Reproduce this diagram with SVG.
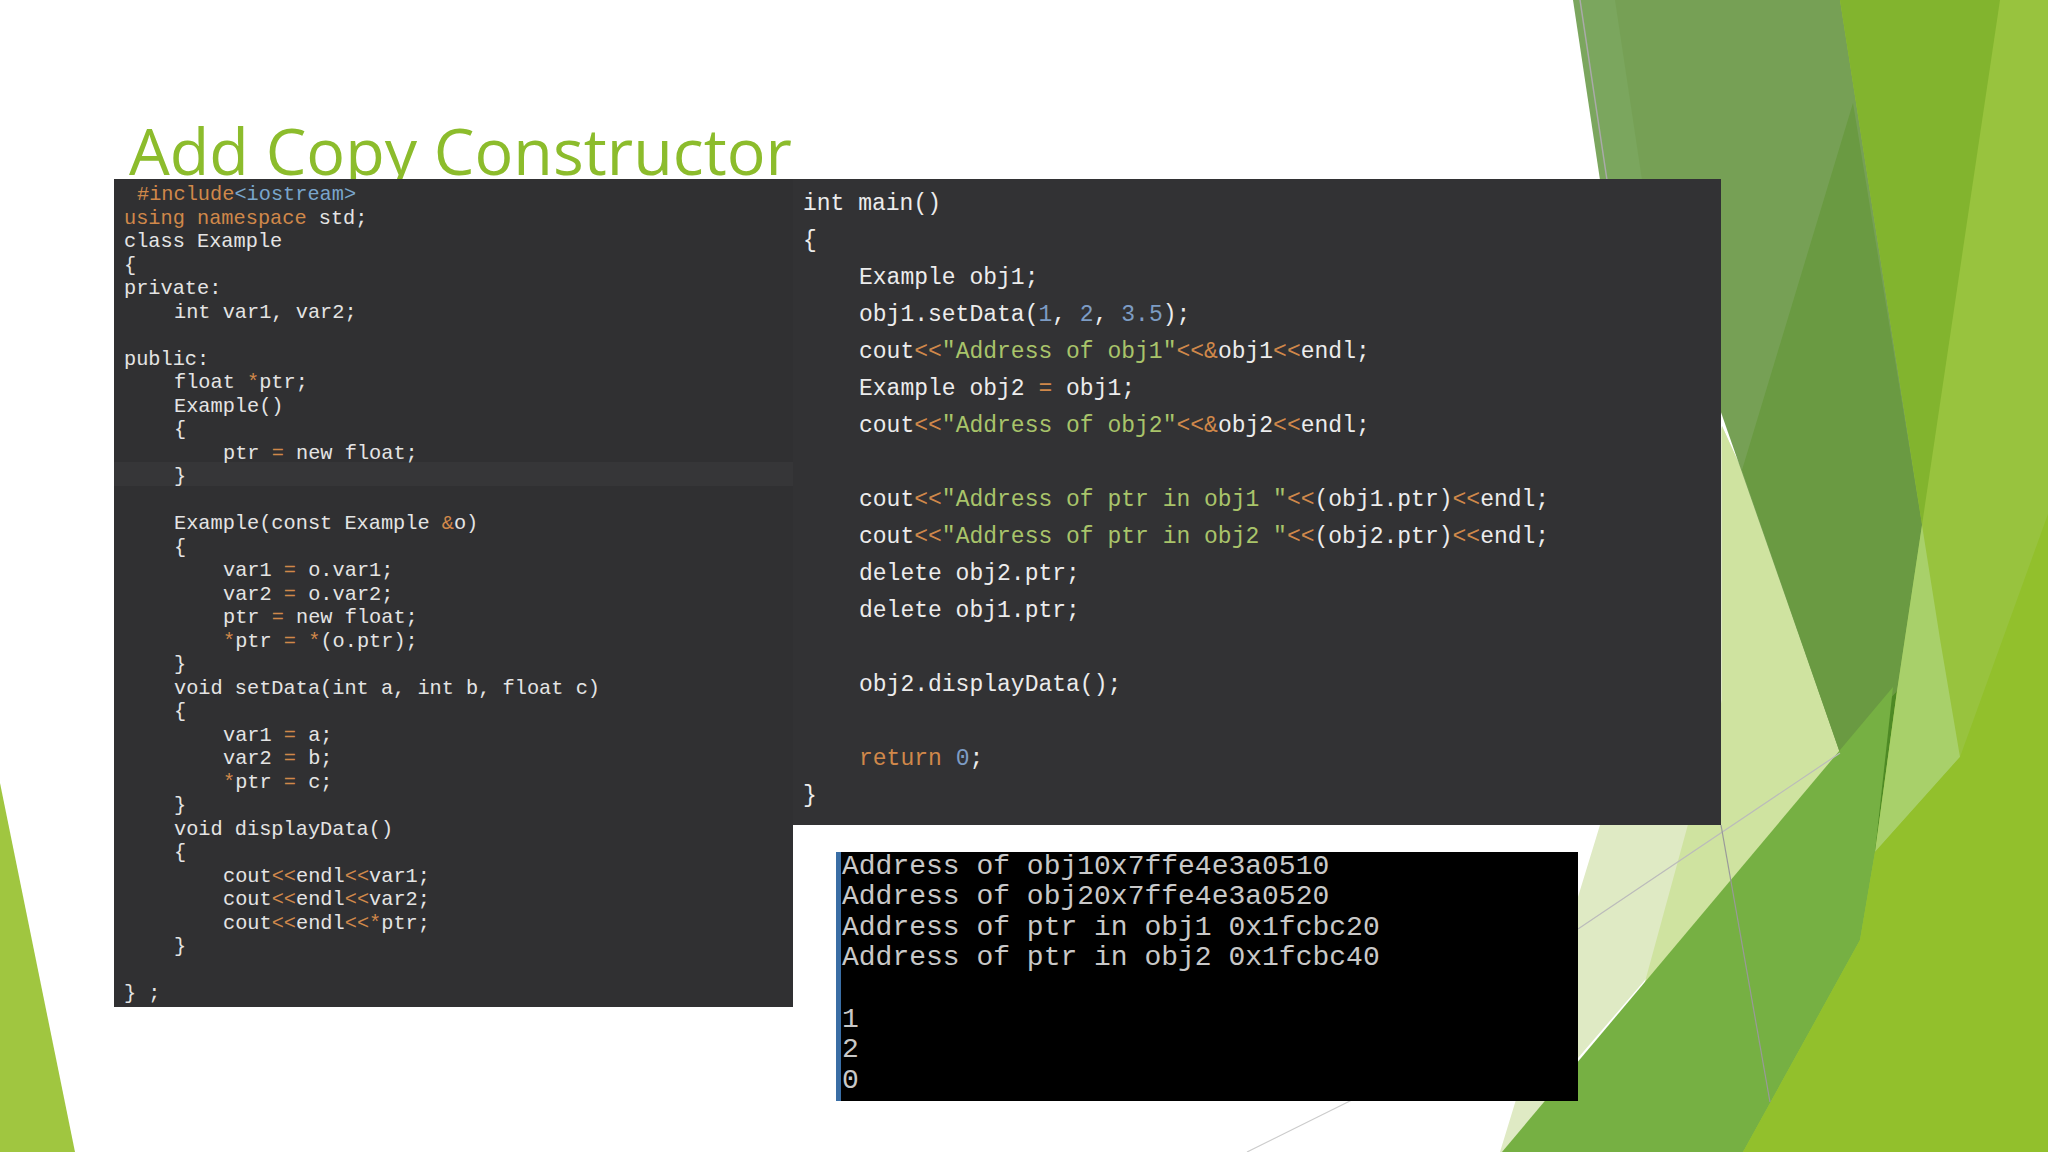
<svg xmlns="http://www.w3.org/2000/svg" width="2048" height="1152" viewBox="0 0 2048 1152">
<style>
.l{font-family:"Liberation Mono",monospace;font-size:20.3px;fill:#e4e4e4}
.r{font-family:"Liberation Mono",monospace;font-size:23px;fill:#ececec}
.o{font-family:"Liberation Mono",monospace;font-size:28px;fill:#c8c8c8}
.k{fill:#d0884a}
.b{fill:#7aa6cc}
.s{fill:#a9c46a}
.n{fill:#7d9cc4}
</style>
<rect width="2048" height="1152" fill="#ffffff"/>
<g id="background">
<polygon points="0,783 0,1152 75,1152" fill="#a0c640"/>
<polygon points="1840,0 2048,0 2048,1152 1743,1152" fill="#98c33e"/>
<polygon points="1722,426 1742,470 1840,753 1578,1058 1540,1152 1500,1152" fill="#dfeac4"/>
<polygon points="1742,470 1840,753 1640,1000 1722,700 1722,426" fill="#cfe3a0"/>
<polygon points="1577,0 1840,0 1922,525 1897,691 1840,753" fill="#76a055"/>
<polygon points="1573,0 1615,0 1642,180 1600,180" fill="#7ba65e"/>
<polygon points="1853,103 1922,525 1897,691 1840,753 1742,470" fill="#6a9a42"/>
<polygon points="1840,753 1897,691 1875,852" fill="#4e8a25"/>
<polygon points="1840,0 2000,0 1922,525" fill="#82b42e"/>
<polygon points="1922,525 1940,639 1960,757 1875,852 1897,691" fill="#a8d06a"/>
<polygon points="1893,687 1875,852 1860,940 1743,1152 1502,1152" fill="#76b043"/>
<polygon points="1960,757 2048,514 2048,1152 1743,1152 1860,940 1875,852" fill="#92c02c"/>
<line x1="1580" y1="0" x2="1607" y2="180" stroke="#aaaaaa" stroke-width="1.5"/>
<line x1="1578" y1="929" x2="1840" y2="753" stroke="#bbbbbb" stroke-width="1.2"/>
<line x1="1721" y1="825" x2="1770" y2="1102" stroke="#999999" stroke-width="1.2"/>
<line x1="1247" y1="1152" x2="1358" y2="1097" stroke="#cccccc" stroke-width="1.2"/>
</g>
<g id="title"><text x="129" y="175" font-family="Open Sans, sans-serif" font-size="64" fill="#8cbc2c" textLength="663" lengthAdjust="spacingAndGlyphs">Add Copy Constructor</text></g>
<g id="left-code">
<rect x="114" y="179" width="679" height="828" fill="#303032"/>
<rect x="114" y="462" width="679" height="24" fill="#363638"/>
<g class="l">
<text x="137" y="200"><tspan class="k">#include</tspan><tspan class="b">&lt;iostream&gt;</tspan></text>
<text x="124" y="223.5"><tspan class="k">using namespace</tspan> std;</text>
<text x="124" y="247">class Example</text>
<text x="124" y="270.5">{</text>
<text x="124" y="294">private:</text>
<text x="174" y="317.5">int var1, var2;</text>
<text x="124" y="364.5">public:</text>
<text x="174" y="388">float <tspan class="k">*</tspan>ptr;</text>
<text x="174" y="411.5">Example()</text>
<text x="174" y="435">{</text>
<text x="223" y="458.5">ptr <tspan class="k">=</tspan> new float;</text>
<text x="174" y="482">}</text>
<text x="174" y="529">Example(const Example <tspan class="k">&amp;</tspan>o)</text>
<text x="174" y="552.5">{</text>
<text x="223" y="576">var1 <tspan class="k">=</tspan> o.var1;</text>
<text x="223" y="599.5">var2 <tspan class="k">=</tspan> o.var2;</text>
<text x="223" y="623">ptr <tspan class="k">=</tspan> new float;</text>
<text x="223" y="646.5"><tspan class="k">*</tspan>ptr <tspan class="k">=</tspan> <tspan class="k">*</tspan>(o.ptr);</text>
<text x="174" y="670">}</text>
<text x="174" y="693.5">void setData(int a, int b, float c)</text>
<text x="174" y="717">{</text>
<text x="223" y="740.5">var1 <tspan class="k">=</tspan> a;</text>
<text x="223" y="764">var2 <tspan class="k">=</tspan> b;</text>
<text x="223" y="787.5"><tspan class="k">*</tspan>ptr <tspan class="k">=</tspan> c;</text>
<text x="174" y="811">}</text>
<text x="174" y="834.5">void displayData()</text>
<text x="174" y="858">{</text>
<text x="223" y="881.5">cout<tspan class="k">&lt;&lt;</tspan>endl<tspan class="k">&lt;&lt;</tspan>var1;</text>
<text x="223" y="905">cout<tspan class="k">&lt;&lt;</tspan>endl<tspan class="k">&lt;&lt;</tspan>var2;</text>
<text x="223" y="928.5">cout<tspan class="k">&lt;&lt;</tspan>endl<tspan class="k">&lt;&lt;*</tspan>ptr;</text>
<text x="174" y="952">}</text>
<text x="124" y="999">} ;</text>
</g>
</g>
<g id="right-code">
<rect x="793" y="179" width="928" height="646" fill="#323234"/>
<g class="r">
<text x="803" y="210">int main()</text>
<text x="803" y="247">{</text>
<text x="859" y="284">Example obj1;</text>
<text x="859" y="321">obj1.setData(<tspan class="n">1</tspan>, <tspan class="n">2</tspan>, <tspan class="n">3.5</tspan>);</text>
<text x="859" y="358">cout<tspan class="k">&lt;&lt;</tspan><tspan class="s">"Address of obj1"</tspan><tspan class="k">&lt;&lt;&amp;</tspan>obj1<tspan class="k">&lt;&lt;</tspan>endl;</text>
<text x="859" y="395">Example obj2 <tspan class="k">=</tspan> obj1;</text>
<text x="859" y="432">cout<tspan class="k">&lt;&lt;</tspan><tspan class="s">"Address of obj2"</tspan><tspan class="k">&lt;&lt;&amp;</tspan>obj2<tspan class="k">&lt;&lt;</tspan>endl;</text>
<text x="859" y="506">cout<tspan class="k">&lt;&lt;</tspan><tspan class="s">"Address of ptr in obj1 "</tspan><tspan class="k">&lt;&lt;</tspan>(obj1.ptr)<tspan class="k">&lt;&lt;</tspan>endl;</text>
<text x="859" y="543">cout<tspan class="k">&lt;&lt;</tspan><tspan class="s">"Address of ptr in obj2 "</tspan><tspan class="k">&lt;&lt;</tspan>(obj2.ptr)<tspan class="k">&lt;&lt;</tspan>endl;</text>
<text x="859" y="580">delete obj2.ptr;</text>
<text x="859" y="617">delete obj1.ptr;</text>
<text x="859" y="691">obj2.displayData();</text>
<text x="859" y="765"><tspan class="k">return</tspan> <tspan class="n">0</tspan>;</text>
<text x="803" y="802">}</text>
</g>
</g>
<g id="output">
<rect x="836" y="852" width="742" height="249" fill="#000000"/>
<rect x="836" y="852" width="5" height="249" fill="#3a6ea5"/>
<g class="o">
<text x="842" y="874">Address of obj10x7ffe4e3a0510</text>
<text x="842" y="904">Address of obj20x7ffe4e3a0520</text>
<text x="842" y="935">Address of ptr in obj1 0x1fcbc20</text>
<text x="842" y="965">Address of ptr in obj2 0x1fcbc40</text>
<text x="842" y="1027">1</text>
<text x="842" y="1057">2</text>
<text x="842" y="1088">0</text>
</g>
</g>
</svg>
